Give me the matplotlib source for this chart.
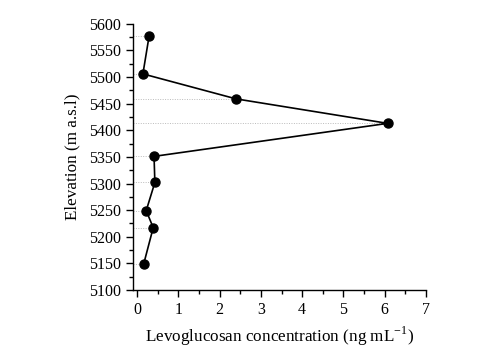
import matplotlib
matplotlib.use("Agg")
import matplotlib.pyplot as plt
from matplotlib.ticker import MultipleLocator

conc = [0.29, 0.14, 2.40, 6.07, 0.41, 0.43, 0.22, 0.39, 0.16]
elev = [5577, 5506, 5459, 5413, 5351, 5302, 5249, 5217, 5149]

plt.rcParams['font.family'] = ['Liberation Serif', 'DejaVu Serif']

fig = plt.figure(figsize=(5.0, 3.51), dpi=100)
ax = fig.add_axes([0.266, 0.174, 0.586, 0.758])

xmin = -0.1
ax.hlines(elev, xmin, conc, colors='#bbbbbb', linestyles=(0, (1, 1.5)), linewidth=0.7, zorder=1)
ax.plot(conc, elev, color='black', linewidth=1.2, marker='o', markersize=6.5, zorder=3)

ax.set_xlim(xmin, 7)
ax.set_ylim(5100, 5600)
ax.xaxis.set_major_locator(MultipleLocator(1))
ax.xaxis.set_minor_locator(MultipleLocator(0.5))
ax.yaxis.set_major_locator(MultipleLocator(50))
ax.yaxis.set_minor_locator(MultipleLocator(25))
for s in ['top', 'right']:
    ax.spines[s].set_visible(False)
for s in ['left', 'bottom']:
    ax.spines[s].set_linewidth(1.0)
ax.tick_params(which='major', direction='out', length=5, width=1.0, labelsize=11.5, pad=3.5)
ax.tick_params(which='minor', direction='out', length=3, width=1.0)

ax.set_xlabel('Levoglucosan concentration (ng mL$^{\\mathregular{-1}}$)', fontsize=12.3, labelpad=5)
ax.set_ylabel('Elevation (m a.s.l)', fontsize=12.3, labelpad=6)

fig.savefig('out.png', dpi=100)
